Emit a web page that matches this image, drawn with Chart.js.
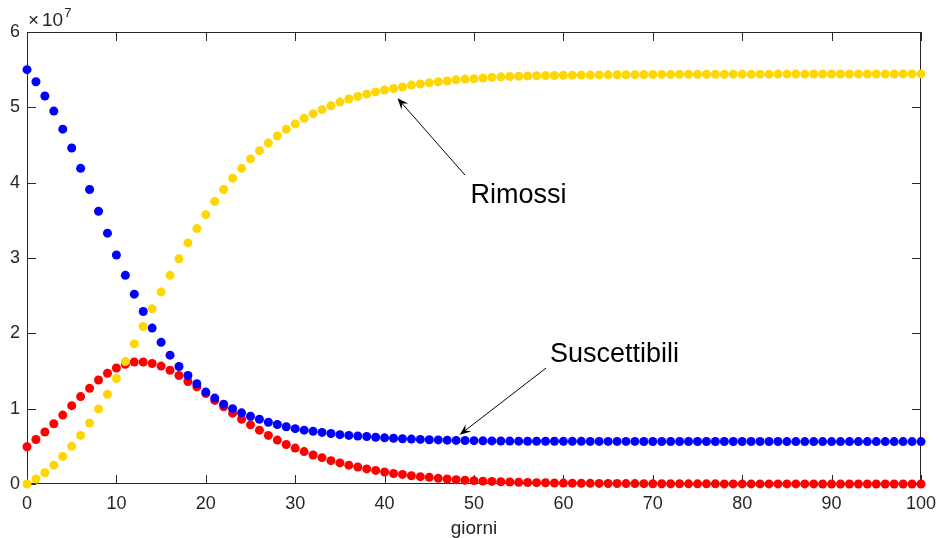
<!DOCTYPE html>
<html><head><meta charset="utf-8">
<script src="https://cdn.jsdelivr.net/npm/chart.js@4/dist/chart.umd.min.js"></script>
<style>html,body{margin:0;padding:0;background:#fff}#wrap{width:940px;height:538px}</style>
</head><body><div id="wrap"><canvas id="c" width="940" height="538"></canvas></div>
<script>
// giorni (days)
const days = [0,1,2,3,4,5,6,7,8,9,10,11,12,13,14,15,16,17,18,19,20,21,22,23,24,25,26,27,28,29,30,31,32,33,34,35,36,37,38,39,40,41,42,43,44,45,46,47,48,49,50,51,52,53,54,55,56,57,58,59,60,61,62,63,64,65,66,67,68,69,70,71,72,73,74,75,76,77,78,79,80,81,82,83,84,85,86,87,88,89,90,91,92,93,94,95,96,97,98,99,100];
// values in units of 10^7
const suscettibili = [5.50,5.34,5.15,4.95,4.71,4.46,4.19,3.91,3.62,3.33,3.04,2.77,2.52,2.29,2.07,1.88,1.71,1.56,1.44,1.33,1.22,1.14,1.06,1.00,0.945,0.90,0.86,0.82,0.79,0.76,0.735,0.715,0.70,0.685,0.67,0.655,0.645,0.637,0.63,0.62,0.613,0.607,0.601,0.596,0.592,0.588,0.585,0.582,0.579,0.577,0.575,0.573,0.572,0.571,0.570,0.569,0.568,0.568,0.567,0.567,0.566,0.566,0.566,0.565,0.565,0.565,0.565,0.565,0.565,0.564,0.564,0.564,0.564,0.564,0.564,0.564,0.564,0.564,0.564,0.564,0.564,0.564,0.564,0.564,0.564,0.563,0.563,0.563,0.563,0.563,0.563,0.563,0.563,0.563,0.563,0.563,0.563,0.563,0.563,0.563,0.563];
const infetti = [0.495,0.59,0.69,0.80,0.915,1.04,1.16,1.27,1.38,1.47,1.54,1.59,1.62,1.62,1.60,1.565,1.51,1.44,1.36,1.29,1.20,1.11,1.025,0.94,0.86,0.785,0.715,0.645,0.583,0.525,0.477,0.43,0.385,0.35,0.31,0.28,0.25,0.225,0.20,0.18,0.16,0.14,0.127,0.11,0.097,0.088,0.075,0.066,0.057,0.05,0.044,0.038,0.034,0.030,0.026,0.023,0.020,0.018,0.016,0.014,0.012,0.011,0.010,0.009,0.008,0.007,0.006,0.0055,0.005,0.0045,0.004,0.0035,0.003,0.003,0.0025,0.002,0.002,0.002,0.0015,0.0015,0.0015,0.001,0.001,0.001,0.001,0.001,0.0008,0.0008,0.0008,0.0007,0.0007,0.0006,0.0006,0.0005,0.0005,0.0005,0.0004,0.0004,0.0004,0.0003,0.0003];
const rimossi = [0,0.066,0.15,0.25,0.366,0.50,0.645,0.81,0.995,1.19,1.40,1.625,1.86,2.09,2.325,2.55,2.77,2.99,3.20,3.39,3.575,3.75,3.91,4.06,4.19,4.315,4.425,4.525,4.62,4.71,4.78,4.855,4.915,4.97,5.02,5.07,5.11,5.145,5.175,5.205,5.23,5.25,5.27,5.295,5.31,5.325,5.34,5.35,5.365,5.375,5.38,5.39,5.40,5.405,5.41,5.413,5.416,5.419,5.421,5.423,5.425,5.427,5.428,5.429,5.43,5.431,5.432,5.433,5.434,5.435,5.436,5.437,5.437,5.438,5.438,5.438,5.439,5.439,5.439,5.44,5.44,5.44,5.44,5.44,5.441,5.441,5.441,5.441,5.442,5.442,5.442,5.442,5.442,5.443,5.443,5.443,5.443,5.443,5.444,5.444,5.444];
const xTicks = [0,10,20,30,40,50,60,70,80,90,100];
const yTicks = [0,1,2,3,4,5,6];
const xLabel = 'giorni';
const yExponent = '7';
// annotations: text anchor and arrow in data coordinates
const notes = [
  {text:'Rimossi', tx:49.6, ty:3.73, from:[49.0,4.10], to:[41.45,5.12]},
  {text:'Suscettibili', tx:58.5, ty:1.625, from:[58.05,1.538], to:[48.4,0.654]}
];

const AX = '#262626';
const FONT = '"Liberation Sans", Arial, Helvetica, sans-serif';
const toXY = (ys) => days.map((d,i)=>({x:d, y:ys[i]}));

const axesPlugin = {
  id:'matlabAxes',
  beforeDatasetsDraw(chart){
    const {ctx, chartArea:a, scales:{x,y}} = chart;
    ctx.save();
    ctx.strokeStyle = AX; ctx.lineWidth = 1;
    ctx.beginPath();
    ctx.rect(Math.round(a.left)+0.5, Math.round(a.top)+0.5, Math.round(a.right-a.left)-1, Math.round(a.bottom-a.top)-1);
    ctx.stroke();
    const L = 9;
    ctx.beginPath();
    xTicks.forEach(v=>{
      const px = Math.round(x.getPixelForValue(v))+0.5;
      ctx.moveTo(px, a.bottom); ctx.lineTo(px, a.bottom-L);
      ctx.moveTo(px, a.top); ctx.lineTo(px, a.top+L);
    });
    yTicks.forEach(v=>{
      const py = Math.round(y.getPixelForValue(v))+0.5;
      ctx.moveTo(a.left, py); ctx.lineTo(a.left+L, py);
      ctx.moveTo(a.right, py); ctx.lineTo(a.right-L, py);
    });
    ctx.stroke();
    ctx.restore();
  },
  afterDatasetsDraw(chart){
    const {ctx, chartArea:a, scales:{x,y}} = chart;
    ctx.save();
    // exponent label
    ctx.fillStyle = AX;
    ctx.textBaseline = 'alphabetic';
    ctx.textAlign = 'left';
    ctx.font = '19px ' + FONT;
    ctx.fillText('\u00d7', a.left+1, a.top-6);
    ctx.fillText('10', a.left+15, a.top-6);
    const w = ctx.measureText('10').width;
    ctx.font = '13px ' + FONT;
    ctx.fillText(yExponent, a.left+15+w+1, a.top-15);
    // annotations
    notes.forEach(n=>{
      const x0 = x.getPixelForValue(n.from[0]), y0 = y.getPixelForValue(n.from[1]);
      const x1 = x.getPixelForValue(n.to[0]), y1 = y.getPixelForValue(n.to[1]);
      const ang = Math.atan2(y1-y0, x1-x0);
      const hl = 11, hw = 4.5, back = 7;
      ctx.strokeStyle = '#000'; ctx.lineWidth = 1;
      ctx.beginPath();
      ctx.moveTo(x0,y0);
      ctx.lineTo(x1 - Math.cos(ang)*back, y1 - Math.sin(ang)*back);
      ctx.stroke();
      ctx.fillStyle = '#000';
      ctx.beginPath();
      ctx.moveTo(x1,y1);
      const bx = x1 - Math.cos(ang)*hl, by = y1 - Math.sin(ang)*hl;
      ctx.lineTo(bx - Math.sin(ang)*hw, by + Math.cos(ang)*hw);
      ctx.lineTo(x1 - Math.cos(ang)*back, y1 - Math.sin(ang)*back);
      ctx.lineTo(bx + Math.sin(ang)*hw, by - Math.cos(ang)*hw);
      ctx.closePath();
      ctx.fill();
      ctx.font = '27px ' + FONT;
      ctx.fillStyle = '#000';
      ctx.textBaseline = 'alphabetic';
      ctx.textAlign = 'left';
      ctx.fillText(n.text, x.getPixelForValue(n.tx), y.getPixelForValue(n.ty));
    });
    ctx.restore();
  }
};

const mkDs = (label, ys, color, order) => ({
  label, data: toXY(ys), backgroundColor: color, borderColor: color,
  pointRadius: 4.5, pointHoverRadius: 4.5, pointBorderWidth: 0, borderWidth: 0,
  showLine: false, clip: false, order
});

new Chart(document.getElementById('c'), {
  type: 'scatter',
  data: { datasets: [
    mkDs('Rimossi', rimossi, '#FFD700', 1),
    mkDs('Suscettibili', suscettibili, '#0000FF', 2),
    mkDs('Infetti', infetti, '#FF0000', 3)
  ]},
  options: {
    responsive: false, animation: false, devicePixelRatio: 1,
    events: [],
    layout: { padding: { left: 0, right: 19, top: 32, bottom: 0 } },
    plugins: { legend: { display: false }, tooltip: { enabled: false } },
    scales: {
      x: {
        type: 'linear', min: 0, max: 100,
        afterFit: s => { s.height = 54; s.paddingLeft = 0; s.paddingRight = 0; },
        afterBuildTicks: s => { s.ticks = xTicks.map(v=>({value:v})); },
        grid: { display: false, drawTicks: false }, border: { display: false },
        ticks: { padding: 9, color: AX, font: { family: FONT, size: 18 }, maxRotation: 0, autoSkip: false },
        title: { display: true, text: xLabel, color: AX, font: { family: FONT, size: 19, lineHeight: 1 }, padding: { top: 0, bottom: 0 } }
      },
      y: {
        type: 'linear', min: 0, max: 6,
        afterFit: s => { s.width = 27; s.paddingTop = 0; s.paddingBottom = 0; },
        afterBuildTicks: s => { s.ticks = yTicks.map(v=>({value:v})); },
        grid: { display: false, drawTicks: false }, border: { display: false },
        ticks: { padding: 7, color: AX, font: { family: FONT, size: 18 }, autoSkip: false }
      }
    }
  },
  plugins: [axesPlugin]
});
</script></body></html>
